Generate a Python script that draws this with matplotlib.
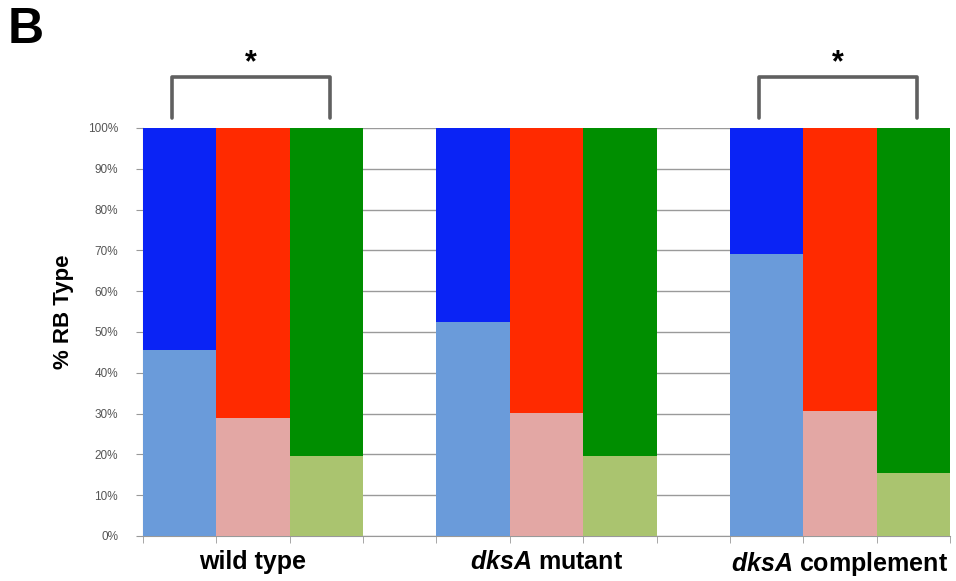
import matplotlib
matplotlib.use("Agg")
import matplotlib.pyplot as plt
import numpy as np

plt.rcParams['font.family'] = ['Liberation Sans', 'DejaVu Sans']
plt.rcParams['mathtext.fontset'] = 'custom'
plt.rcParams['mathtext.it'] = 'Liberation Sans:italic:bold'
plt.rcParams['mathtext.rm'] = 'Liberation Sans:bold'

# Data
groups = ["wild type", r"$\it{dksA}$ mutant", r"$\it{dksA}$ complement"]
blue_lower = [45.6, 52.5, 69.0]
red_lower = [28.9, 30.1, 30.7]
green_lower = [19.6, 19.7, 15.4]
yticks = [0, 10, 20, 30, 40, 50, 60, 70, 80, 90, 100]
ytick_labels = ["0%", "10%", "20%", "30%", "40%", "50%", "60%", "70%", "80%", "90%", "100%"]

dark_colors = ["#0A23F5", "#FF2A00", "#008E00"]
light_colors = ["#6A9BDA", "#E3A7A4", "#AAC46F"]

fig = plt.figure(figsize=(9.56, 5.81), dpi=100)
ax = fig.add_axes([143/956, 1-536/581, (950-143)/956, (536-128)/581])

series = [blue_lower, red_lower, green_lower]
for g in range(3):
    for s in range(3):
        x = g * 4 + s
        low = series[s][g]
        ax.bar(x, low, width=1.0, color=light_colors[s], zorder=3, linewidth=0)
        ax.bar(x, 100 - low, bottom=low, width=1.0, color=dark_colors[s], zorder=3, linewidth=0)

ax.set_xlim(-0.5, 10.5)
ax.set_ylim(0, 100)
ax.set_yticks(yticks)
ax.set_yticklabels(ytick_labels, fontsize=8.5, color="#555555")
ax.yaxis.grid(True, color="#9a9a9a", linewidth=1.0, zorder=0)
ax.tick_params(axis='y', length=5, color="#999999", pad=13)

centers = [1, 5, 9]
ax.set_xticks(centers)
ax.set_xticklabels(groups, fontsize=18, fontweight='bold')
ax.set_xticks(np.arange(-0.5, 11, 1.0), minor=True)
ax.tick_params(axis='x', which='major', length=0, pad=10)
ax.tick_params(axis='x', which='minor', length=5, color="#999999")

for sp in ['top', 'right']:
    ax.spines[sp].set_visible(False)
ax.spines['left'].set_color("#999999")
ax.spines['bottom'].set_color("#999999")

ax.set_ylabel("% RB Type", fontsize=16, fontweight='bold')
ax.yaxis.set_label_coords(-0.086, 0.55)

# Significance brackets
for (x0, x1) in [(-0.1, 2.05), (7.9, 10.05)]:
    ax.plot([x0, x0, x1, x1], [102.5, 112.5, 112.5, 102.5], color="#606060",
            linewidth=2.6, clip_on=False, solid_joinstyle='round', solid_capstyle='round')
    ax.text((x0 + x1) / 2, 115.8, "*", ha='center', va='center', fontsize=22,
            fontweight='bold', clip_on=False)

fig.text(8/956, 1-30/581, "B", fontsize=36, fontweight='bold', va='center', ha='left')

fig.savefig("out.png", dpi=100)
